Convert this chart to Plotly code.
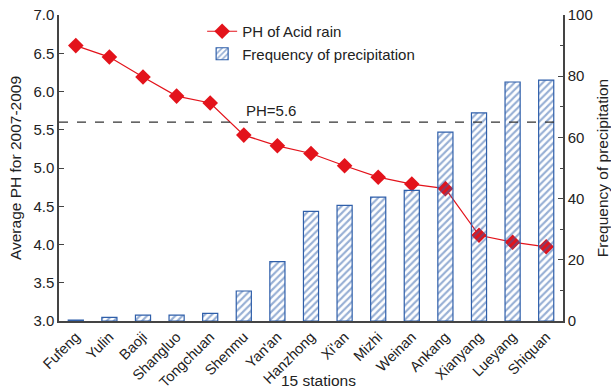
import plotly.graph_objects as go

stations = ["Fufeng", "Yulin", "Baoji", "Shangluo", "Tongchuan", "Shenmu", "Yan'an",
            "Hanzhong", "Xi'an", "Mizhi", "Weinan", "Ankang", "Xianyang", "Lueyang", "Shiquan"]
ph_values = [6.60, 6.45, 6.19, 5.94, 5.85, 5.43, 5.29, 5.19, 5.03, 4.88, 4.79, 4.73, 4.12, 4.03, 3.97]
frequency = [0.3, 1.2, 1.9, 1.9, 2.5, 9.8, 19.4, 35.8, 37.8, 40.5, 42.7, 61.7, 68.0, 78.1, 78.7]
ph_threshold = 5.6
left_ticks = [3.0, 3.5, 4.0, 4.5, 5.0, 5.5, 6.0, 6.5, 7.0]
right_ticks = [0, 20, 40, 60, 80, 100]

RED = "#E3131B"
BLUE = "#2F5FAA"
FONT = "Liberation Sans, Arial, sans-serif"
TXT = "#222222"
AX = "#444444"

fig = go.Figure()

fig.add_trace(go.Scatter(
    x=stations, y=ph_values, name="PH of Acid rain", mode="lines+markers",
    line=dict(color=RED, width=1.2),
    marker=dict(symbol="diamond", size=12, color=RED),
    yaxis="y",
))

fig.add_trace(go.Bar(
    x=stations, y=frequency, name="Frequency of precipitation",
    width=0.45,
    marker=dict(color="rgba(0,0,0,0)", line=dict(color=BLUE, width=1.2),
                pattern=dict(shape="/", fgcolor=BLUE, bgcolor="rgba(0,0,0,0)",
                             size=5, solidity=0.42, fillmode="overlay")),
    yaxis="y2",
))

fig.add_shape(type="line", xref="paper", yref="y", x0=0, x1=1,
              y0=ph_threshold, y1=ph_threshold,
              line=dict(color="#333333", width=1.2, dash="dash"))
fig.add_annotation(x=5.8, y=ph_threshold, xref="x", yref="y", text="PH=5.6",
                   showarrow=False, yanchor="bottom", yshift=1,
                   font=dict(family=FONT, size=15, color=TXT))
fig.add_annotation(x=0.515, y=-0.195, xref="paper", yref="paper", text="15 stations",
                   showarrow=False, yanchor="middle", xanchor="center",
                   font=dict(family=FONT, size=15.5, color=TXT))

fig.update_layout(
    width=611, height=391,
    margin=dict(l=59, r=48, t=15, b=70),
    paper_bgcolor="white", plot_bgcolor="white",
    font=dict(family=FONT, size=15, color=TXT),
    showlegend=True,
    legend=dict(x=0.284, y=1.0, xanchor="left", yanchor="top",
                bgcolor="rgba(0,0,0,0)", font=dict(size=15, color=TXT),
                tracegroupgap=0, itemwidth=30),
    xaxis=dict(range=[-0.5, 14.5], tickangle=-45, showline=True, linecolor=AX,
               linewidth=1.5, ticks="", showgrid=False, zeroline=False, automargin=False,
               tickfont=dict(size=14.5)),
    yaxis=dict(range=[3.0, 7.0], tickvals=left_ticks, ticktext=[f"{v:.1f}" for v in left_ticks],
               showline=True, linecolor=AX, linewidth=1.5, ticks="inside", ticklen=5,
               tickcolor=AX, showgrid=False, zeroline=False, automargin=False,
               tickfont=dict(size=15),
               title=dict(text="Average PH for 2007-2009", standoff=8, font=dict(size=15.5))),
    yaxis2=dict(range=[0, 100], tickvals=right_ticks, overlaying="y", side="right",
                showline=True, linecolor=AX, linewidth=1.5, ticks="inside", ticklen=5,
                tickcolor=AX, showgrid=False, zeroline=False, automargin=False,
                tickfont=dict(size=15),
                minor=dict(dtick=10, ticks="inside", ticklen=3, tickcolor=AX),
                title=dict(text="Frequency of precipitation", standoff=6, font=dict(size=15.5))),
)

fig.write_html("out.html")
